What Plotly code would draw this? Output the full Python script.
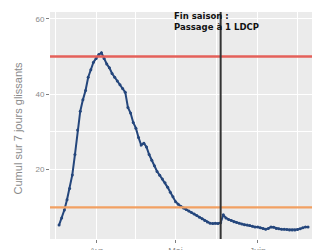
import plotly.graph_objects as go
import pandas as pd

# Daily dates (Mar 18 -> Jun 20, 2020)
dates = pd.date_range("2020-03-18", "2020-06-20", freq="D")

# Rolling 7-day cumulative values
values = [
    5.3, 7.2, 9.3, 12.0, 15.0, 18.6, 24.0, 30.5, 35.5, 38.5, 41.0, 44.5, 46.5, 48.5,  # Mar 18-31
    49.5, 50.5, 51.0, 49.5, 48.0, 47.0, 45.5, 44.5, 43.5, 42.5, 41.5, 40.5, 36.5, 35.0, 32.5,  # Apr 1-15
    31.0, 28.5, 26.5, 27.0, 26.0, 24.0, 22.5, 21.0, 19.5, 18.5, 17.5, 16.5, 15.3, 14.0, 12.8,  # Apr 16-30
    11.5, 10.8, 10.2, 9.8, 9.4, 9.0, 8.6, 8.2, 7.8, 7.4, 7.0, 6.5, 6.1, 5.8, 5.7, 5.8,  # May 1-16
    5.7, 5.9, 8.0, 7.2, 6.8, 6.5, 6.2, 6.0, 5.8, 5.6, 5.4, 5.3, 5.2, 5.0, 4.8,  # May 17-31
    4.8, 4.6, 4.4, 4.2, 4.4, 4.8, 4.7, 4.4, 4.3, 4.2, 4.2, 4.1, 4.0, 4.0, 4.0,  # Jun 1-15
    4.1, 4.3, 4.6, 4.8, 4.8,  # Jun 16-20
]

threshold_high = 50
threshold_low = 10
event_date = "2020-05-18"
event_label = "Fin saison :<br>Passage à 1 LDCP"

tick_dates = ["2020-04-01", "2020-05-01", "2020-06-01"]
tick_labels = ["Avr", "Mai", "Juin"]
minor_dates = ["2020-03-16 12:00", "2020-04-16", "2020-05-16 12:00", "2020-06-16"]
y_ticks = [20, 40, 60]
y_title = "Cumul sur 7 jours glissants"

fig = go.Figure()

fig.add_hline(y=threshold_high, line=dict(color="#e4605a", width=2.4))
fig.add_hline(y=threshold_low, line=dict(color="#f2a062", width=2.4))

fig.add_trace(go.Scatter(
    x=dates, y=values, mode="lines+markers",
    line=dict(color="#24467c", width=2),
    marker=dict(color="#24467c", size=3),
    showlegend=False,
))

fig.add_shape(type="line", x0=event_date, x1=event_date, xref="x", yref="paper",
              y0=0, y1=1, line=dict(color="#333333", width=2))

fig.add_annotation(text=event_label, xref="paper", yref="paper",
                   x=(172 - 50) / 270, y=1.012, xanchor="left", yanchor="top", align="left",
                   showarrow=False,
                   font=dict(family="DejaVu Sans", size=8.5, color="#111111", weight="bold"))

fig.add_annotation(text=y_title, xref="paper", yref="paper",
                   x=(18 - 50) / 270, y=0.487, xanchor="center", yanchor="middle",
                   textangle=-90, showarrow=False,
                   font=dict(family="Liberation Sans", size=11, color="#8a8a8a"))

# The page body adds an 8px offset; margins compensate so the panel sits at x 50-320, y 12-239
fig.update_layout(
    width=320, height=250,
    margin=dict(l=42, r=8, t=4, b=19),
    paper_bgcolor="white", plot_bgcolor="#ebebeb",
    font=dict(family="Liberation Sans", color="#7f7f7f"),
    xaxis=dict(
        range=["2020-03-14 14:00", "2020-06-24 12:00"],
        automargin=False,
        tickmode="array", tickvals=tick_dates, ticktext=tick_labels,
        ticks="outside", ticklen=3, tickcolor="#7f7f7f",
        tickfont=dict(size=9, color="#8a8a8a"),
        showgrid=True, gridcolor="white", gridwidth=1.2,
        minor=dict(tickmode="array", tickvals=minor_dates, showgrid=True,
                   gridcolor="white", gridwidth=0.6, ticks=""),
        zeroline=False, showline=False,
    ),
    yaxis=dict(
        range=[1.6, 61.8],
        automargin=False,
        tickmode="array", tickvals=y_ticks,
        ticks="outside", ticklen=3, tickcolor="#7f7f7f",
        tickfont=dict(size=8, color="#8a8a8a"),
        showgrid=True, gridcolor="white", gridwidth=1.2,
        minor=dict(tickmode="array", tickvals=[10, 30, 50], showgrid=True,
                   gridcolor="white", gridwidth=0.6, ticks=""),
        zeroline=False, showline=False,
    ),
)

fig.write_html("out.html")
